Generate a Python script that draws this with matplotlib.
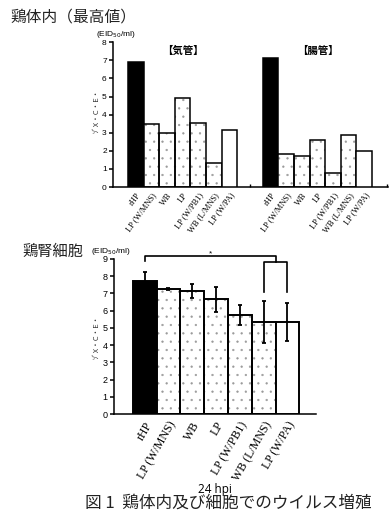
import numpy as np
import matplotlib
matplotlib.use("Agg")
import matplotlib.pyplot as plt

plt.rcParams['font.family'] = ['Liberation Sans', 'Noto Sans CJK JP', 'DejaVu Sans']
plt.rcParams['hatch.linewidth'] = 0.4

# ---------------- data ----------------
strains = ["rHP", "LP (W/MNS)", "WB", "LP", "LP (W/PB1)", "WB (L/MNS)", "LP (W/PA)"]
trachea = [6.9, 3.5, 3.0, 4.9, 3.55, 1.35, 3.15]
intestine = [7.15, 1.8, 1.7, 2.6, 0.8, 2.85, 2.0]
kidney_mean = [7.75, 7.25, 7.15, 6.65, 5.75, 5.35, 5.35]
kidney_err = [0.5, 0.05, 0.4, 0.75, 0.6, 1.2, 1.1]
fills = ["black", "dot", "dot", "dot", "dot", "dot", "white"]
top_yticks = [0, 1, 2, 3, 4, 5, 6, 7, 8]
bot_yticks = [0, 1, 2, 3, 4, 5, 6, 7, 8, 9]

W, H = 389, 522
fig = plt.figure(figsize=(W / 100, H / 100), dpi=100)

def fx(px):
    return px / W

def fy(py):
    return 1 - py / H

JP = ['Noto Sans CJK JP', 'DejaVu Sans']
SERIF = ['Liberation Serif', 'DejaVu Serif']


def draw_bars(ax, pos, vals, lw):
    for p, v, f in zip(pos, vals, fills):
        if f == "black":
            ax.bar(p, v, width=1.0, color="black", edgecolor="black", linewidth=lw, zorder=2)
        elif f == "dot":
            ax.bar(p, v, width=1.0, color="white", edgecolor="#9a9a9a", hatch="..", linewidth=0, zorder=2)
            ax.bar(p, v, width=1.0, fill=False, edgecolor="black", linewidth=lw, zorder=3)
        else:
            ax.bar(p, v, width=1.0, color="white", edgecolor="black", linewidth=lw, zorder=3)


def style_axes(ax, fs):
    for s in ["top", "right"]:
        ax.spines[s].set_visible(False)
    for s in ["left", "bottom"]:
        ax.spines[s].set_linewidth(1.1)
    ax.tick_params(axis="y", direction="out", length=3, width=1.1, labelsize=fs, pad=1.5)


# ---------------- top chart ----------------
ax1 = fig.add_axes([fx(113), fy(187), fx(388) - fx(113), fy(42.3) - fy(187)])
pos_t = np.arange(len(strains))
pos_i = np.arange(len(strains)) + 8.65
draw_bars(ax1, pos_t, trachea, 1.1)
draw_bars(ax1, pos_i, intestine, 1.1)
ax1.set_ylim(0, 8)
ax1.set_xlim(-1.46, 16.17)
ax1.set_yticks(top_yticks)
style_axes(ax1, 6)
ax1.set_xticks(list(pos_t) + list(pos_i))
ax1.set_xticklabels(strains + strains, rotation=54, ha="right", va="top",
                    rotation_mode="anchor", fontsize=6, family=SERIF)
ax1.tick_params(axis="x", length=0, pad=3)
ax1.set_xticks([7.32, 16.1], minor=True)
ax1.tick_params(axis="x", which="minor", direction="in", length=2, width=1)
ax1.text(3.0, 7.55, "【気管】", fontsize=7.5, fontweight="bold", family=JP,
         ha="center", va="center")
ax1.text(11.65, 7.55, "【腸管】", fontsize=7.5, fontweight="bold", family=JP,
         ha="center", va="center")

fig.text(fx(10), fy(17), "鶏体内（最高値）", fontsize=11.3, family=JP, ha="left", va="center",
         color="#222222")
fig.text(fx(116), fy(35), "(EID$_{50}$/ml)", fontsize=6, ha="center", va="center")
fig.text(fx(96), fy(111), "ｿﾞX・C・E・", fontsize=5.5, family=JP, rotation=90,
         ha="center", va="center", color="#333333")

# ---------------- bottom chart ----------------
ax2 = fig.add_axes([fx(114), fy(414), fx(316) - fx(114), fy(259) - fy(414)])
pos_k = np.arange(len(strains))
draw_bars(ax2, pos_k, kidney_mean, 1.4)
ax2.errorbar(pos_k, kidney_mean, yerr=kidney_err, fmt="none", ecolor="black",
             elinewidth=1.3, capsize=1.2, capthick=1.3, zorder=5)
ax2.set_ylim(0, 9)
ax2.set_xlim(-1.29, 7.2)
ax2.set_yticks(bot_yticks)
style_axes(ax2, 6.5)
ax2.set_xticks(pos_k)
ax2.set_xticklabels(strains, rotation=60, ha="right", va="top",
                    rotation_mode="anchor", fontsize=8.6, family=SERIF)
ax2.tick_params(axis="x", length=0, pad=4)

# significance bracket
bk = dict(color="black", lw=1.2, clip_on=False, zorder=6)
ax2.plot([0, 0, 5.5, 5.5], [8.9, 9.19, 9.19, 8.82], **bk)
ax2.plot([5, 5, 6, 6], [7.1, 8.82, 8.82, 7.1], **bk)
ax2.text(2.78, 9.3, "*", fontsize=6, ha="center", va="center")

fig.text(fx(22), fy(251), "鶏腎細胞", fontsize=11, family=JP, ha="left", va="center",
         color="#222222")
fig.text(fx(111), fy(251), "(EID$_{50}$/ml)", fontsize=6, ha="center", va="center")
fig.text(fx(96), fy(337), "ｿﾞX・C・E・", fontsize=5.5, family=JP, rotation=90,
         ha="center", va="center", color="#333333")
fig.text(fx(215), fy(489), "24 hpi", fontsize=8.5, family=['Open Sans', 'DejaVu Sans'],
         ha="center", va="center")
fig.text(fx(228), fy(503), "図 1  鶏体内及び細胞でのウイルス増殖", fontsize=12, family=JP,
         ha="center", va="center", color="#222222")

fig.savefig("out.png", dpi=100)
